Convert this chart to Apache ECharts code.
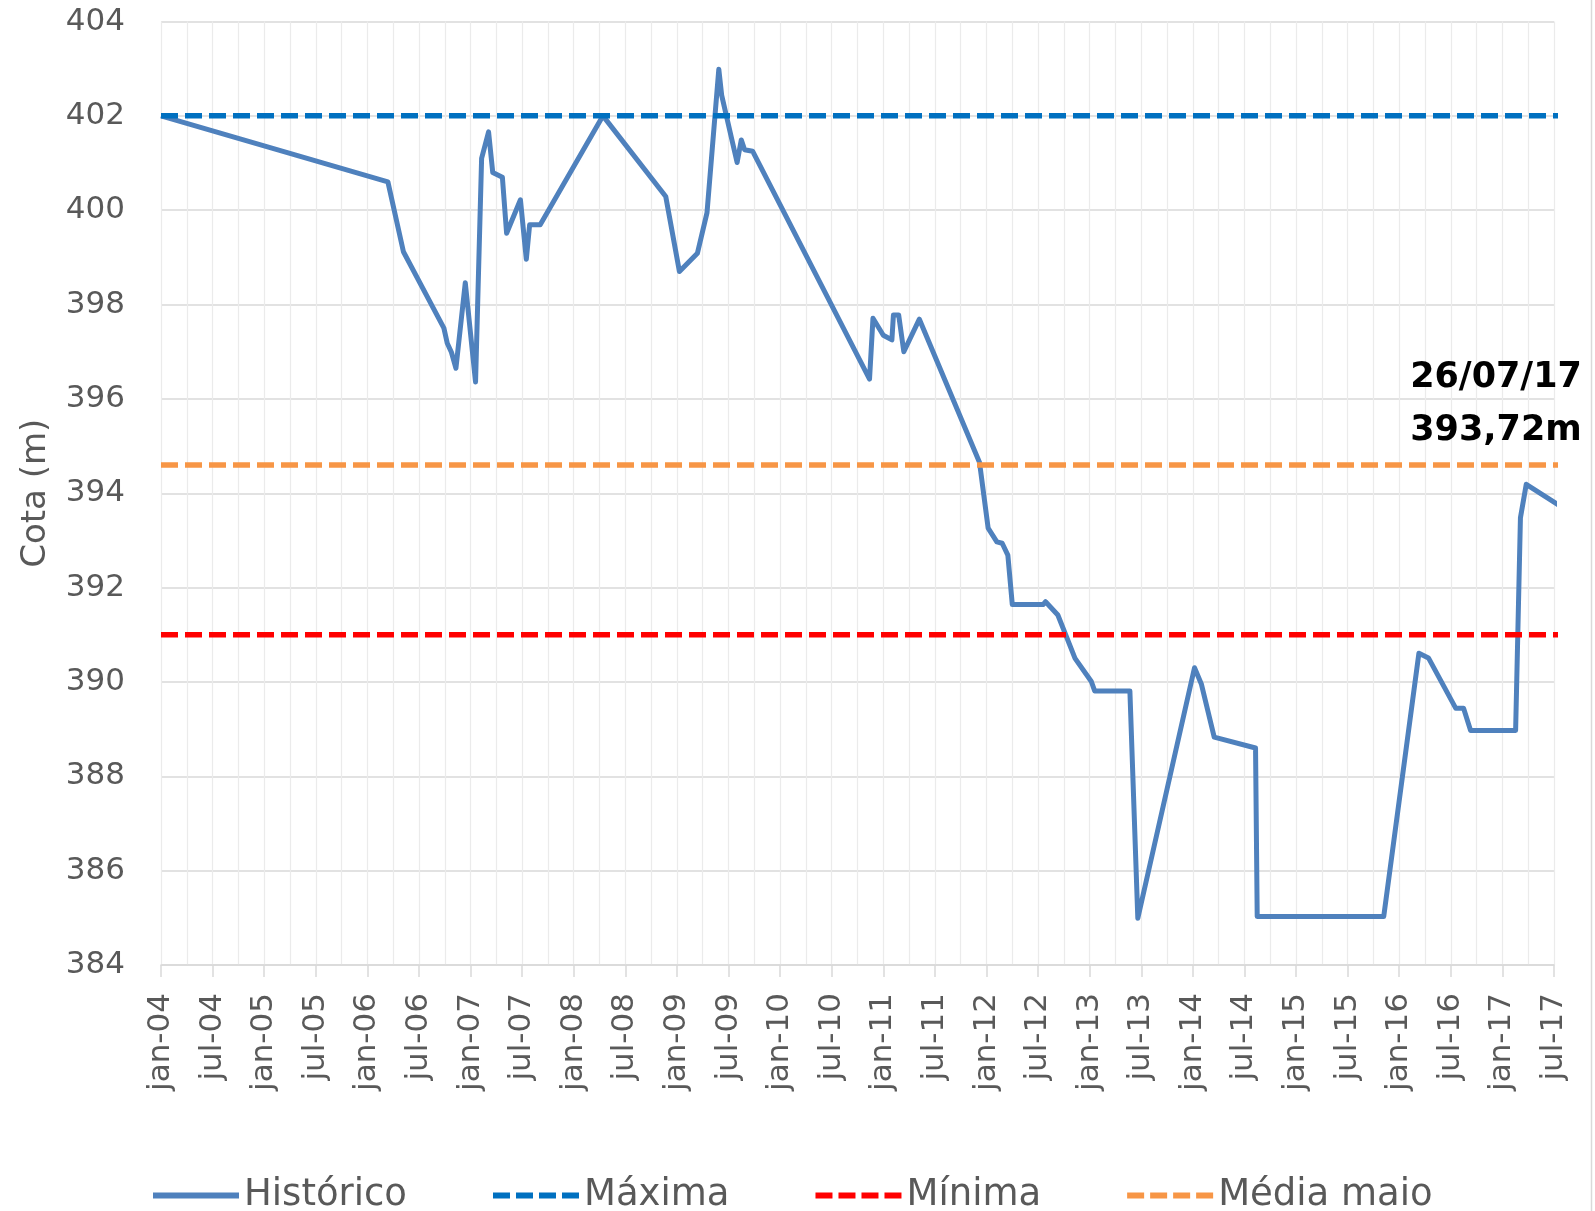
<!DOCTYPE html>
<html>
<head>
<meta charset="utf-8">
<script src="https://cdn.jsdelivr.net/npm/echarts@6.0.0/dist/echarts.min.js"></script>
<style>
  html, body { margin: 0; padding: 0; background: #fff; }
  #chart { width: 1595px; height: 1211px; }
</style>
</head>
<body>
<div id="chart"></div>
<script>
// nível histórico (data, cota em m)
var datas = [
  '2004-01-01', '2006-03-13', '2006-05-07', '2006-09-28', '2006-10-10', '2006-10-25',
  '2006-11-10', '2006-12-13', '2007-01-19', '2007-02-09', '2007-03-04', '2007-03-19',
  '2007-04-22', '2007-05-07', '2007-06-25', '2007-07-16', '2007-07-28', '2007-09-04',
  '2008-04-13', '2008-11-22', '2009-01-10', '2009-03-13', '2009-04-16', '2009-05-28',
  '2009-06-07', '2009-08-01', '2009-08-16', '2009-08-28', '2009-09-25', '2010-11-13',
  '2010-11-25', '2011-01-01', '2011-02-01', '2011-02-06', '2011-02-23', '2011-03-13',
  '2011-05-07', '2011-12-07', '2012-01-07', '2012-02-07', '2012-02-25', '2012-03-16',
  '2012-04-01', '2012-07-19', '2012-07-28', '2012-09-10', '2012-11-10', '2013-01-07',
  '2013-01-19', '2013-05-22', '2013-06-19', '2014-01-07', '2014-02-01', '2014-03-16',
  '2014-08-10', '2014-08-16', '2015-11-07', '2016-03-10', '2016-04-13', '2016-07-19',
  '2016-08-16', '2016-09-10', '2017-02-16', '2017-03-04', '2017-03-25', '2017-07-26'
];
var cotas = [
  402.00, 400.60, 399.12, 397.50, 397.18, 396.99,
  396.65, 398.46, 396.36, 401.10, 401.66, 400.80,
  400.70, 399.51, 400.22, 398.96, 399.69, 399.69,
  402.00, 400.29, 398.70, 399.09, 399.95, 402.99,
  402.44, 401.01, 401.49, 401.28, 401.25, 396.42,
  397.71, 397.35, 397.25, 397.78, 397.78, 397.00,
  397.69, 394.65, 393.26, 392.97, 392.94, 392.69,
  391.64, 391.64, 391.70, 391.42, 390.50, 390.01,
  389.81, 389.81, 384.99, 390.30, 389.95, 388.83,
  388.60, 385.03, 385.03, 390.61, 390.51, 389.44,
  389.44, 388.97, 388.97, 393.48, 394.19, 393.72
];

// cotas de referência
var cotaMaxima = 402.0;
var cotaMinima = 391.0;
var mediaMaio = 394.6;

var inicio = '2004-01-01';
var fim = '2017-07-01';
var mesesAbrev = ['jan', 'fev', 'mar', 'abr', 'mai', 'jun', 'jul', 'ago', 'set', 'out', 'nov', 'dez'];

var fonte = '"DejaVu Sans", sans-serif';
var cinza = '#595959';

// ícones da legenda: traço contínuo e tracejado
var iconeCheio = 'path://M0,0h86v6h-86z';
var iconeTracejado = 'path://M0,0h17v6h-17z M23,0h17v6h-17z M46,0h17v6h-17z M69,0h17v6h-17z';

// meses desde jan-04 (com fração do mês)
function mesIdx(s) {
    var p = s.split('-').map(Number);
    var dias = new Date(p[0], p[1], 0).getDate();
    return (p[0] - 2004) * 12 + (p[1] - 1) + (p[2] - 1) / dias;
}

var historico = [];
for (var i = 0; i < datas.length; i++) {
    historico.push([mesIdx(datas[i]), cotas[i]]);
}

function linhaRef(v) {
    return [[mesIdx(datas[0]), v], [mesIdx(datas[datas.length - 1]), v]];
}

function tracejado(nome, cor, v) {
    return {
        name: nome,
        type: 'line',
        data: linhaRef(v),
        symbol: 'none',
        clip: true,
        lineStyle: { color: cor, width: 5.5, type: [17, 7], cap: 'butt' },
        itemStyle: { color: cor },
        silent: true
    };
}

var ultData = datas[datas.length - 1].split('-');
var ultTexto = ultData[2] + '/' + ultData[1] + '/' + ultData[0].slice(2);
var ultCota = cotas[cotas.length - 1].toFixed(2).replace('.', ',') + 'm';

var myChart = echarts.init(document.getElementById('chart'));

var estiloNota = {
    color: '#000',
    fontFamily: fonte,
    fontSize: 35,
    fontWeight: 'bold',
    lineHeight: 40
};

var option = {
    backgroundColor: '#fff',
    animation: false,
    title: [
        { text: ultTexto, left: 1496, top: 358, textAlign: 'center', padding: 0, textStyle: estiloNota },
        { text: ultCota, left: 1496, top: 411, textAlign: 'center', padding: 0, textStyle: estiloNota }
    ],
    grid: { left: 161, right: 41, top: 21.5, bottom: 246 },
    xAxis: {
        type: 'value',
        min: mesIdx(inicio),
        max: mesIdx(fim),
        interval: 6,
        axisLine: { show: true, lineStyle: { color: '#d9d9d9', width: 1.5 } },
        axisTick: { show: true, length: 12, lineStyle: { color: '#d9d9d9', width: 1.5 } },
        minorTick: { show: false, splitNumber: 2 },
        splitLine: { show: true, lineStyle: { color: '#ebebeb', width: 1.2 } },
        minorSplitLine: { show: true, lineStyle: { color: '#ebebeb', width: 1.2 } },
        axisLabel: {
            rotate: 90,
            margin: 28,
            color: cinza,
            fontFamily: fonte,
            fontSize: 31,
            formatter: function (m) {
                var ano = 2004 + Math.floor(m / 12);
                return mesesAbrev[Math.round(m) % 12] + '-' + String(ano).slice(2);
            }
        }
    },
    yAxis: {
        type: 'value',
        min: 384,
        max: 404,
        interval: 2,
        name: 'Cota (m)',
        nameLocation: 'middle',
        nameGap: 108,
        nameTextStyle: { color: cinza, fontFamily: fonte, fontSize: 34 },
        axisLine: { show: false },
        axisTick: { show: false },
        splitLine: { show: true, lineStyle: { color: '#d9d9d9', width: 1.5 } },
        axisLabel: { color: cinza, fontFamily: fonte, fontSize: 31, margin: 36 }
    },
    legend: {
        left: 148,
        top: 1172,
        itemWidth: 86,
        itemHeight: 6,
        itemGap: 86,
        symbolKeepAspect: false,
        textStyle: { color: cinza, fontFamily: fonte, fontSize: 37 },
        data: [
            { name: 'Histórico', icon: iconeCheio },
            { name: 'Máxima', icon: iconeTracejado },
            { name: 'Mínima', icon: iconeTracejado },
            { name: 'Média maio', icon: iconeTracejado }
        ]
    },
    series: [
        {
            name: 'Histórico',
            type: 'line',
            data: historico,
            symbol: 'none',
            clip: true,
            lineStyle: { color: '#4f81bd', width: 5, join: 'round' },
            itemStyle: { color: '#4f81bd' }
        },
        tracejado('Máxima', '#0070c0', cotaMaxima),
        tracejado('Mínima', '#ff0000', cotaMinima),
        tracejado('Média maio', '#f79646', mediaMaio)
    ],
    graphic: [
        {
            type: 'line',
            shape: { x1: 1591.5, y1: 0, x2: 1591.5, y2: 1211 },
            style: { stroke: '#d9d9d9', lineWidth: 1.5 }
        }
    ]
};

option && myChart.setOption(option);

window.addEventListener('resize', function () {
    myChart.resize();
});
</script>
</body>
</html>
